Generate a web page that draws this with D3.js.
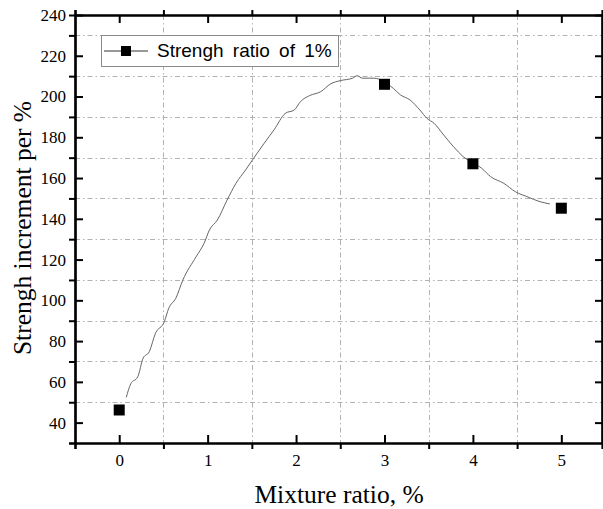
<!DOCTYPE html>
<html>
<head>
<meta charset="utf-8">
<script src="https://cdn.jsdelivr.net/npm/d3@7"></script>
<style>
  body { margin: 0; background: #fff; }
  .tickText { font-family: "Times New Roman", "Liberation Serif", serif; font-size: 17px; fill: #000; }
  .aTitle { font-family: "Times New Roman", "Liberation Serif", serif; font-size: 25.5px; fill: #000; }
  .legText { font-family: Arial, "Liberation Sans", sans-serif; font-size: 19px; fill: #000; word-spacing: 4px; }
</style>
</head>
<body>
<div id="chart"></div>
<script>
// measured points (mixture ratio %, strength increment per %)
var pointX = [0, 3, 4, 5];
var pointY = [46.2, 206, 167, 145.2];

// smoothed fit line
var fitX = [0.08, 0.13, 0.21, 0.27, 0.34, 0.41, 0.51, 0.56, 0.64, 0.72, 0.87, 0.96, 1.02,
  1.11, 1.22, 1.32, 1.43, 1.52, 1.64, 1.75, 1.88, 1.98, 2.05, 2.15, 2.28, 2.39, 2.5,
  2.64, 2.69, 2.75, 2.88, 3.1, 3.18, 3.29, 3.4, 3.48, 3.56, 3.67, 3.78, 3.89, 4.1,
  4.2, 4.35, 4.48, 4.61, 4.76, 4.87];
var fitY = [52.4, 59, 62.5, 71.6, 74.8, 83.8, 89.5, 96.1, 101, 110, 121.4, 128, 134.5,
  139.4, 149.2, 157.4, 164, 169.7, 177.1, 183.6, 191.8, 193.4, 197.5, 200.4, 202.4, 206.2, 207.8,
  209, 210.2, 209, 209, 204, 200.8, 198.3, 193.4, 189.3, 186.9, 181.1, 175.4, 170.5, 164.8,
  160.7, 157.4, 153.3, 150.9, 148.4, 147.3];

var xMajor = [0, 1, 2, 3, 4, 5];
var xMinor = [-0.5, 0.5, 1.5, 2.5, 3.5, 4.5];
var yMajor = [40, 60, 80, 100, 120, 140, 160, 180, 200, 220, 240];
var yMinor = [30, 50, 70, 90, 110, 130, 150, 170, 190, 210, 230];

var legendLabel = "Strengh ratio of 1%";
var xTitle = "Mixture ratio, %";
var yTitle = "Strengh increment per %";

var w = 603;
var h = 509;

var pLeft = 75;
var pRight = 602;
var pTop = 15;
var pBottom = 443;

var svg = d3
  .select("#chart")
  .append("svg")
  .attr("width", w)
  .attr("height", h);

var xScale = d3.scaleLinear().domain([-0.5, 5.46]).range([pLeft, pRight]);
var yScale = d3.scaleLinear().domain([30, 240]).range([pBottom, pTop]);

// grid lines sit on the minor ticks
var grid = svg.append("g").attr("class", "grid");
grid
  .selectAll("line.gx")
  .data(xMinor.filter(function(d) { return d > -0.5; }))
  .enter()
  .append("line")
  .attr("class", "gx")
  .attr("x1", function(d) { return Math.round(xScale(d)) + 0.5; })
  .attr("x2", function(d) { return Math.round(xScale(d)) + 0.5; })
  .attr("y1", pTop)
  .attr("y2", pBottom);
grid
  .selectAll("line.gy")
  .data(yMinor.filter(function(d) { return d > 30; }))
  .enter()
  .append("line")
  .attr("class", "gy")
  .attr("x1", pLeft)
  .attr("x2", pRight)
  .attr("y1", function(d) { return Math.round(yScale(d)) + 0.5; })
  .attr("y2", function(d) { return Math.round(yScale(d)) + 0.5; });
grid
  .selectAll("line")
  .attr("stroke", "#b2b2b2")
  .attr("stroke-width", 1)
  .attr("stroke-dasharray", "5,3,1.5,3");

// fit curve
var line = d3
  .line()
  .curve(d3.curveMonotoneX)
  .x(function(d) { return xScale(d[0]); })
  .y(function(d) { return yScale(d[1]); });

svg
  .append("path")
  .datum(d3.zip(fitX, fitY))
  .attr("d", line)
  .attr("fill", "none")
  .attr("stroke", "#666")
  .attr("stroke-width", 1);

// axes: major ticks inside, minor ticks outside
function styleAxis(g) {
  g.select(".domain").attr("stroke", "#000").attr("stroke-width", 2.2);
  g.selectAll(".tick line").attr("stroke", "#000").attr("stroke-width", 2);
  g.selectAll(".tick text").attr("class", "tickText").attr("font-family", null).attr("font-size", null);
}

var fmt = d3.format("d");
var xAxis = d3.axisBottom(xScale).tickValues(xMajor).tickFormat(fmt).tickSizeInner(-8).tickSizeOuter(0).tickPadding(11);
var xAxisMinor = d3.axisBottom(xScale).tickValues(xMinor).tickSize(6).tickFormat("");
var xTop = d3.axisTop(xScale).tickValues(xMajor).tickSizeInner(-8).tickSizeOuter(0).tickFormat("");
var xTopMinor = d3.axisTop(xScale).tickValues(xMinor).tickSize(5).tickFormat("");

var yAxis = d3.axisLeft(yScale).tickValues(yMajor).tickFormat(fmt).tickSizeInner(-8).tickSizeOuter(0).tickPadding(9);
var yAxisMinor = d3.axisLeft(yScale).tickValues(yMinor).tickSize(6).tickFormat("");
var yRight = d3.axisRight(yScale).tickValues(yMajor).tickSizeInner(-7).tickSizeOuter(0).tickFormat("");
var yRightMinor = d3.axisRight(yScale).tickValues(yMinor).tickSize(5).tickFormat("");

svg.append("g").attr("transform", "translate(0," + pBottom + ")").call(xAxisMinor).call(styleAxis);
svg.append("g").attr("transform", "translate(0," + pBottom + ")").call(xAxis).call(styleAxis);
svg.append("g").attr("transform", "translate(0," + pTop + ")").call(xTopMinor).call(styleAxis);
svg.append("g").attr("transform", "translate(0," + pTop + ")").call(xTop).call(styleAxis);
svg.append("g").attr("transform", "translate(" + pLeft + ",0)").call(yAxisMinor).call(styleAxis);
svg.append("g").attr("transform", "translate(" + pLeft + ",0)").call(yAxis).call(styleAxis);
svg.append("g").attr("transform", "translate(" + pRight + ",0)").call(yRightMinor).call(styleAxis);
svg.append("g").attr("transform", "translate(" + pRight + ",0)").call(yRight).call(styleAxis);

// square markers
var sq = 11;
svg
  .selectAll("rect.pt")
  .data(d3.zip(pointX, pointY))
  .enter()
  .append("rect")
  .attr("class", "pt")
  .attr("x", function(d) { return xScale(d[0]) - sq / 2; })
  .attr("y", function(d) { return yScale(d[1]) - sq / 2; })
  .attr("width", sq)
  .attr("height", sq)
  .attr("fill", "#000");

// legend
var leg = svg.append("g").attr("transform", "translate(101,35)");
leg
  .append("rect")
  .attr("x", 0.5)
  .attr("y", 0.5)
  .attr("width", 237)
  .attr("height", 31)
  .attr("fill", "#fff")
  .attr("stroke", "#8a8a8a")
  .attr("stroke-width", 1);
leg
  .append("line")
  .attr("x1", 3)
  .attr("x2", 47)
  .attr("y1", 16)
  .attr("y2", 16)
  .attr("stroke", "#333")
  .attr("stroke-width", 1);
leg
  .append("rect")
  .attr("x", 25 - 5)
  .attr("y", 16 - 5)
  .attr("width", 10)
  .attr("height", 10)
  .attr("fill", "#000");
leg
  .append("text")
  .attr("class", "legText")
  .attr("x", 56)
  .attr("y", 22)
  .text(legendLabel);

// axis titles
svg
  .append("text")
  .attr("class", "aTitle")
  .attr("text-anchor", "middle")
  .attr("x", 339)
  .attr("y", 503)
  .text(xTitle);

svg
  .append("text")
  .attr("class", "aTitle")
  .attr("text-anchor", "middle")
  .attr("transform", "translate(31,228)rotate(-90)")
  .text(yTitle);
</script>
</body>
</html>
